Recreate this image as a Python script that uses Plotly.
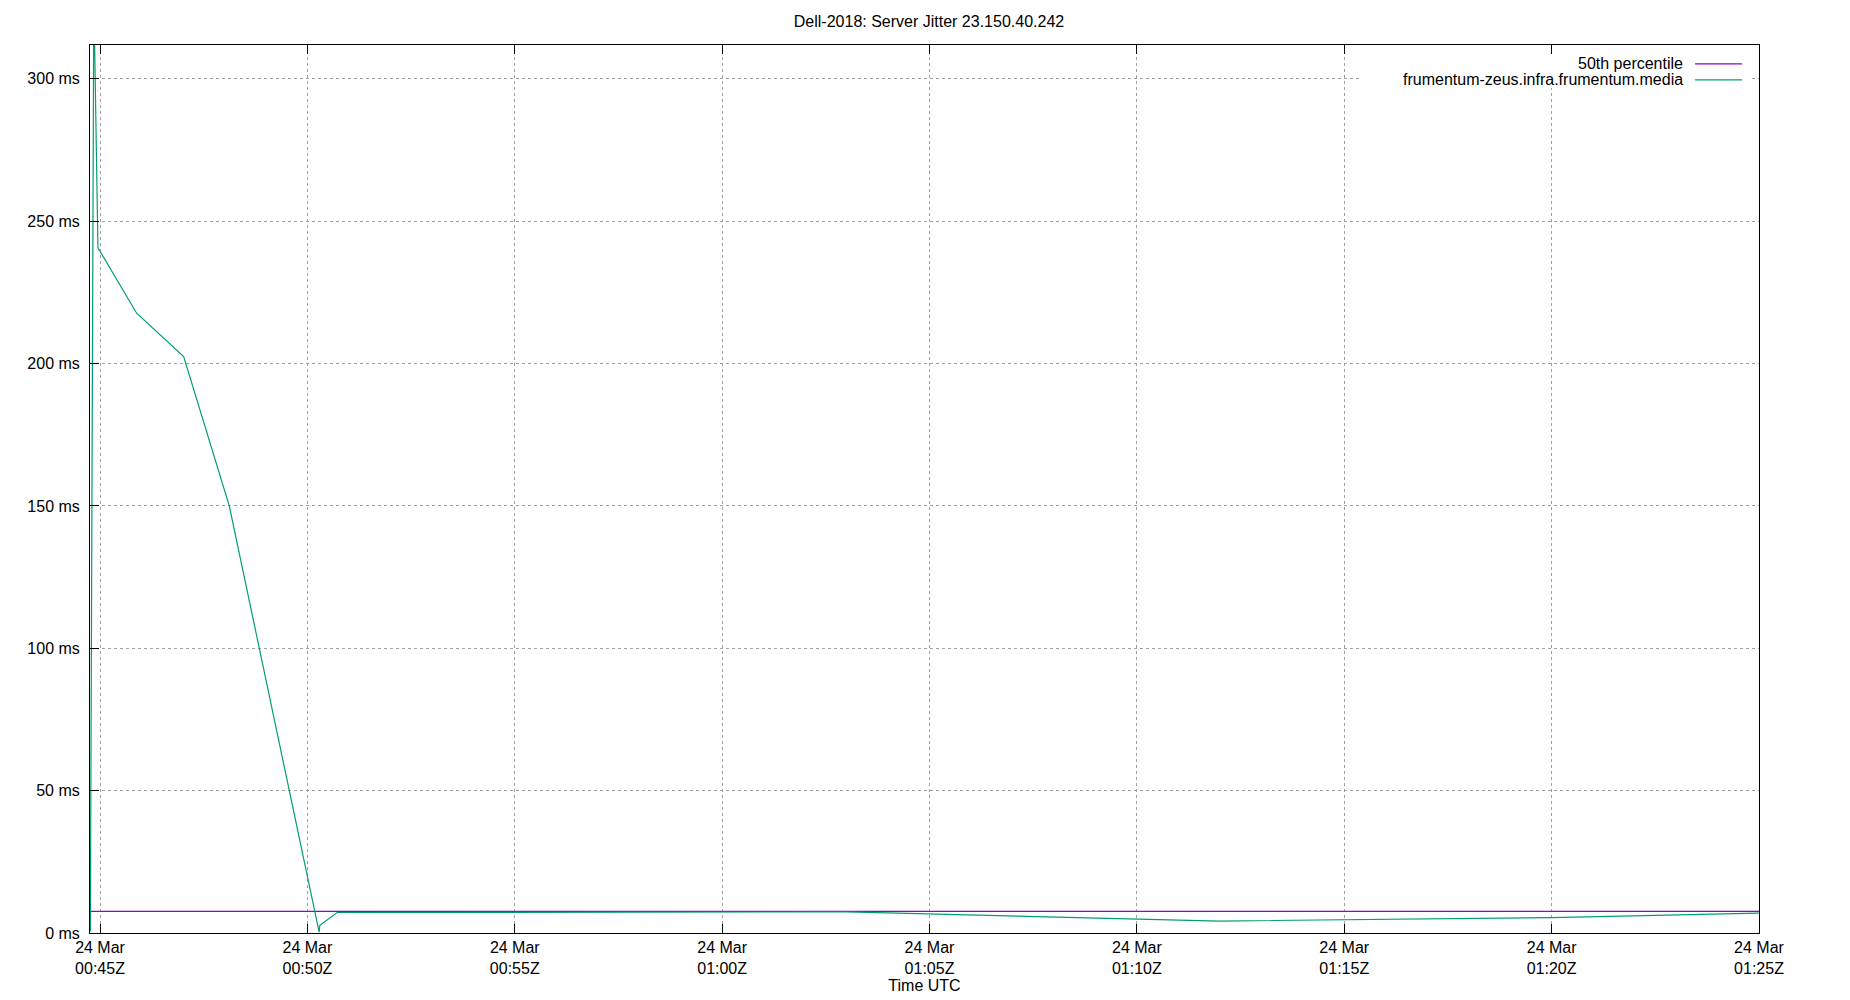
import plotly.graph_objects as go

day = "2024-03-24 "

# jitter samples (time UTC, ms)
jitter_times = ["00:44:46", "00:44:51", "00:44:57", "00:45:53", "00:47:01", "00:48:07",
                "00:50:17", "00:50:18", "00:50:43", "00:55:00", "01:00:00", "01:03:00",
                "01:12:00", "01:15:00", "01:20:00", "01:25:00"]
jitter_ms = [0.5, 330, 240.7, 217.7, 202.5, 150.0,
             0.3, 2.7, 7.2, 7.3, 7.4, 7.4,
             4.2, 4.6, 5.4, 7.0]

# 50th percentile line
median_times = ["00:44:45.5", "01:25:00"]
median_ms = [7.6, 7.6]

tick_times = ["00:45", "00:50", "00:55", "01:00", "01:05", "01:10", "01:15", "01:20", "01:25"]
tick_labels = ["24 Mar<br>" + t + "Z" for t in tick_times]
y_ticks = [0, 50, 100, 150, 200, 250, 300]
y_labels = [f"{v} ms" for v in y_ticks]

x_range = [day + "00:44:45.5", day + "01:25:00"]
y_range = [0, 311.9]

font = "Liberation Sans, Arial, sans-serif"
purple = "#9400d3"
green = "#009e73"

fig = go.Figure()

fig.add_trace(go.Scatter(
    x=[day + t for t in median_times], y=median_ms,
    mode="lines", name="50th percentile",
    line=dict(color=purple, width=1.3),
    showlegend=False,
))
fig.add_trace(go.Scatter(
    x=[day + t for t in jitter_times], y=jitter_ms,
    mode="lines", name="frumentum-zeus.infra.frumentum.media",
    line=dict(color=green, width=1.2),
    showlegend=False,
))

# legend drawn gnuplot style: opaque key box, text on the left, sample on the right
legend_names = ["50th percentile", "frumentum-zeus.infra.frumentum.media"]
legend_colors = [purple, green]
legend_y = [0.9787, 0.9607]

shapes = [dict(type="rect", xref="paper", yref="paper", x0=0.761, x1=0.9946,
               y0=0.9517, y1=0.9888, fillcolor="white", line=dict(width=0),
               layer="above")]
annotations = []
for name, col, yy in zip(legend_names, legend_colors, legend_y):
    annotations.append(dict(text=name, xref="paper", yref="paper", x=0.9557, y=yy,
                            xanchor="right", yanchor="middle", showarrow=False,
                            font=dict(family=font, size=16, color="black")))
    shapes.append(dict(type="line", xref="paper", yref="paper", x0=0.9617, x1=0.9898,
                       y0=yy, y1=yy, line=dict(color=col, width=1.3), layer="above"))

# page body has an 8px margin, so the figure is a bit smaller than the window
fig.update_layout(
    width=1842, height=992,
    margin=dict(l=82, r=91, t=37, b=64),
    paper_bgcolor="white", plot_bgcolor="white",
    font=dict(family=font, size=16, color="black"),
    title=dict(text="Dell-2018: Server Jitter 23.150.40.242", x=0.5, xanchor="center",
               y=0.986, yanchor="middle", font=dict(size=16)),
    shapes=shapes,
    annotations=annotations,
    xaxis=dict(
        type="date", range=x_range,
        tickvals=[day + t for t in tick_times], ticktext=tick_labels,
        ticks="inside", ticklen=9, tickcolor="black", tickwidth=1,
        showline=True, linecolor="black", linewidth=1, mirror="ticks",
        showgrid=True, gridcolor="#a0a0a0", griddash="dot", gridwidth=1,
        zeroline=False,
        title=dict(text="Time UTC", standoff=0, font=dict(size=16)),
    ),
    yaxis=dict(
        range=y_range, tickvals=y_ticks, ticktext=y_labels,
        ticks="inside", ticklen=9, tickcolor="black", tickwidth=1,
        showline=True, linecolor="black", linewidth=1, mirror=True,
        showgrid=True, gridcolor="#a0a0a0", griddash="dot", gridwidth=1,
        zeroline=False, ticklabelstandoff=6,
    ),
)

fig.write_html("out.html")
